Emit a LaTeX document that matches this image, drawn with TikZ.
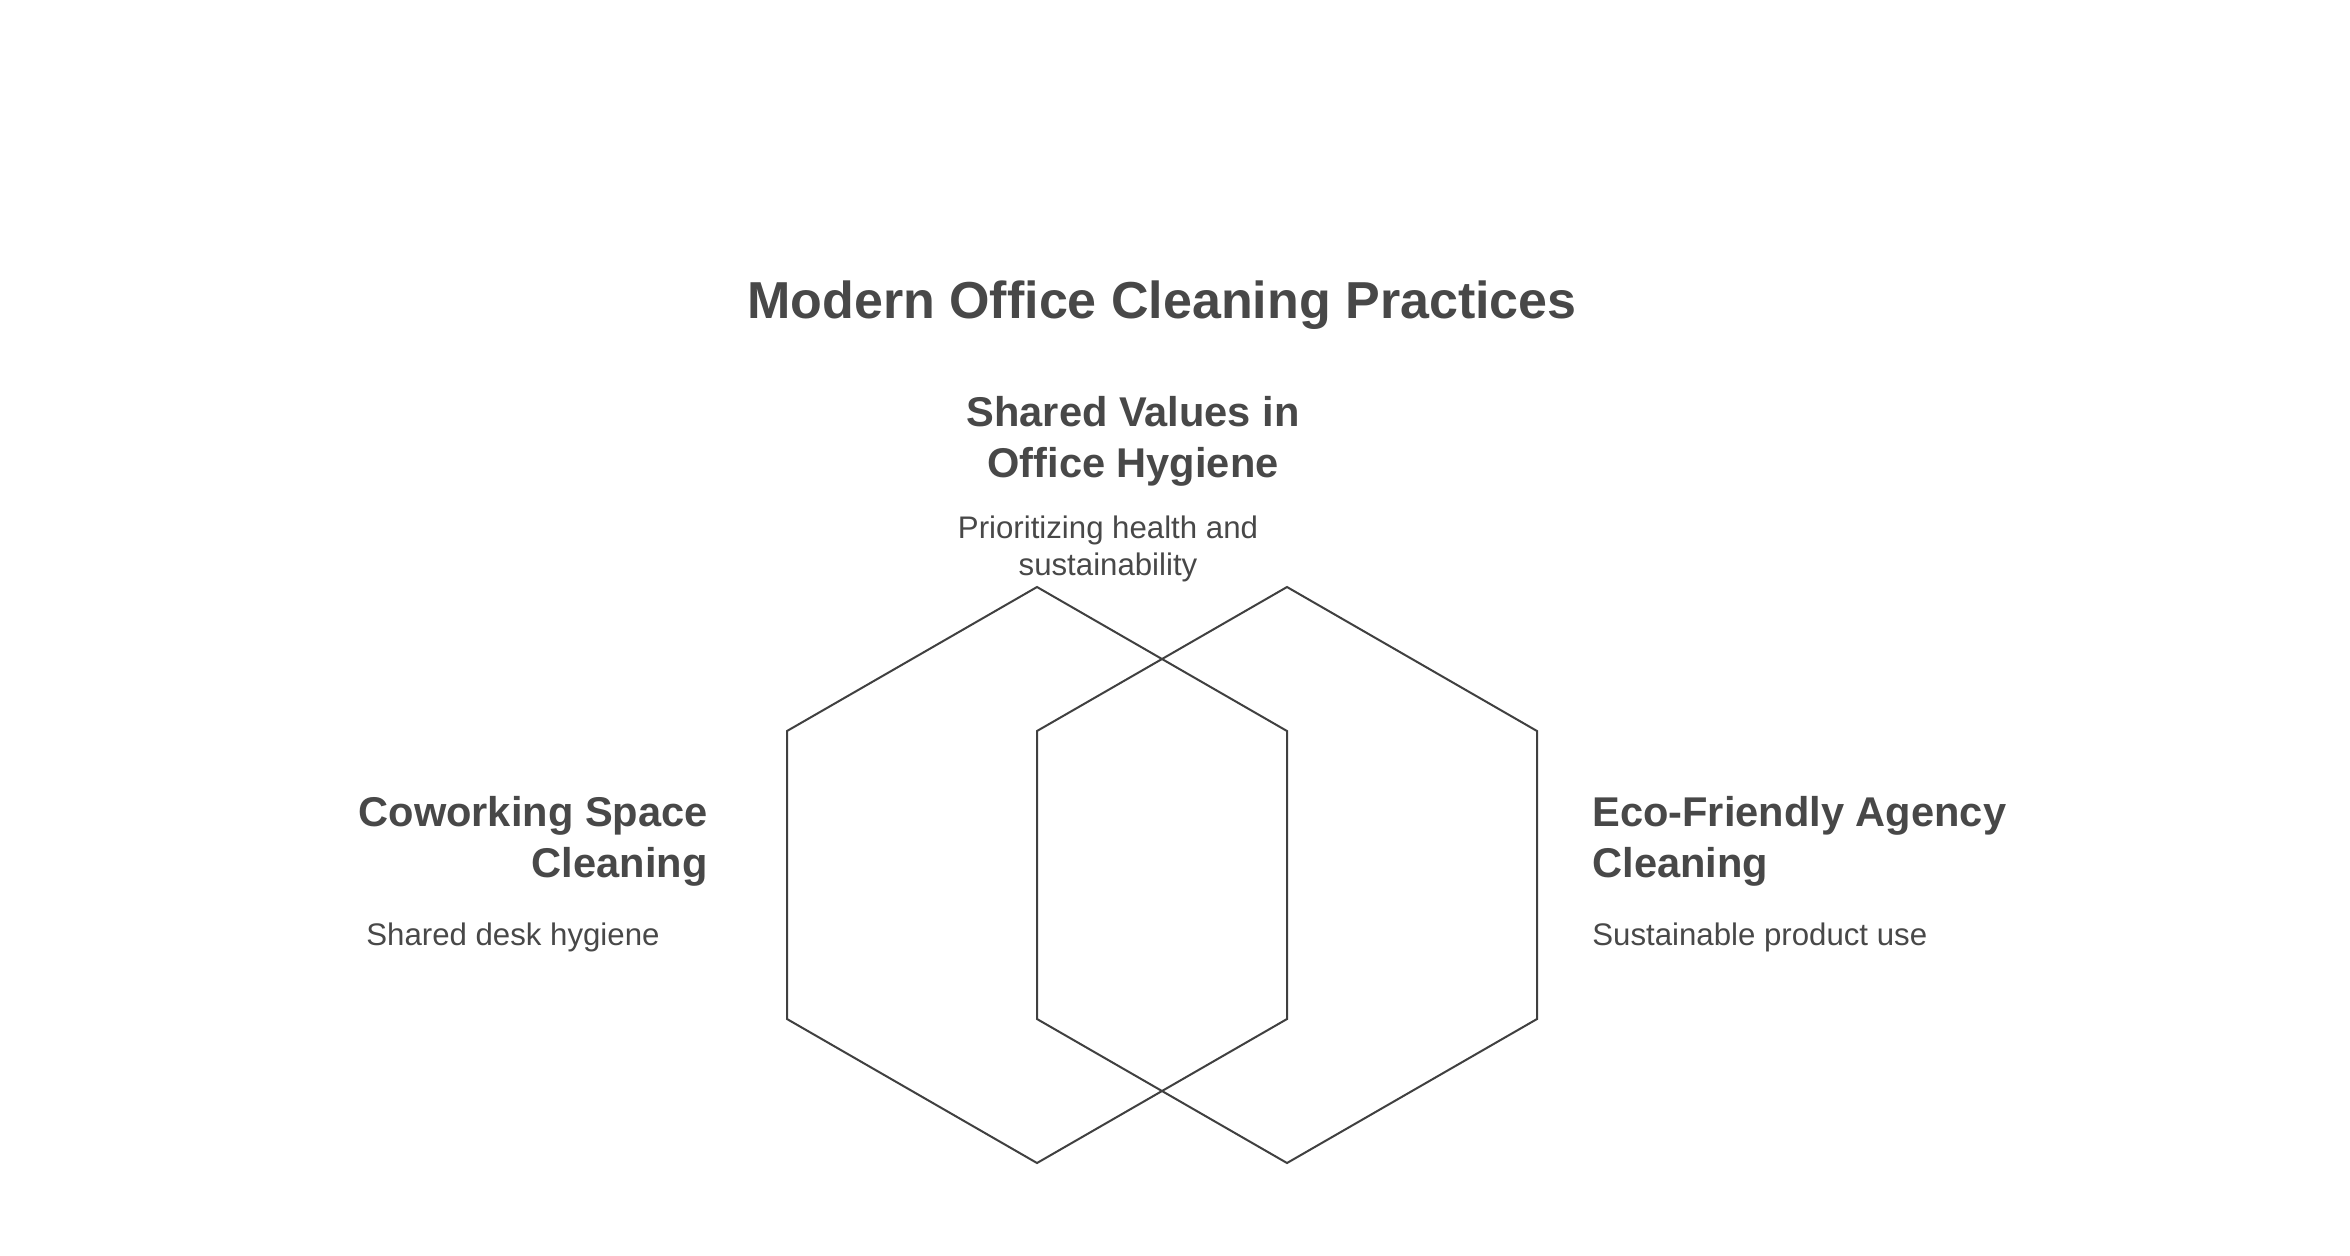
\documentclass[tikz,border=0pt]{standalone}
\usepackage{fontspec}
\setmainfont{Liberation Sans}
\definecolor{txt}{HTML}{484848}
\definecolor{edge}{HTML}{404040}
\begin{document}
\begin{tikzpicture}[x=0.5pt,y=-0.5pt,
  hexa/.style={draw=edge,line width=1pt,line join=miter},
  ttl/.style={text=txt,inner sep=0pt,font=\fontsize{26}{31}\selectfont\bfseries},
  head/.style={text=txt,inner sep=0pt,font=\fontsize{20.8}{25.5}\selectfont\bfseries},
  desc/.style={text=txt,inner sep=0pt,font=\fontsize{15.6}{18.5}\selectfont}]
\useasboundingbox[fill=white] (0,0) rectangle (2350,1255);
% hexagons
\draw[hexa] (1037,587) -- (1287,731) -- (1287,1019) -- (1037,1163) -- (787,1019) -- (787,731) -- cycle;
\draw[hexa] (1287,587) -- (1537,731) -- (1537,1019) -- (1287,1163) -- (1037,1019) -- (1037,731) -- cycle;
% texts (base anchor of a multi-line node = baseline of its last line)
\node[ttl,anchor=base] (title) at (1162,318) {Modern Office Cleaning Practices};
\node[head,anchor=base,align=center] (shh) at (1133,477) {Shared Values in\\Office Hygiene};
\node[desc,anchor=base,align=center] (shd) at (1108,575) {Prioritizing health and\\sustainability};
\node[head,anchor=base east,align=right] (cwh) at (708,877) {Coworking Space\\Cleaning};
\node[desc,anchor=base west] (cwd) at (366,945) {Shared desk hygiene};
\node[head,anchor=base west,align=left] (ech) at (1592,877) {Eco-Friendly Agency\\Cleaning};
\node[desc,anchor=base west] (ecd) at (1592,945) {Sustainable product use};
\end{tikzpicture}
\end{document}
